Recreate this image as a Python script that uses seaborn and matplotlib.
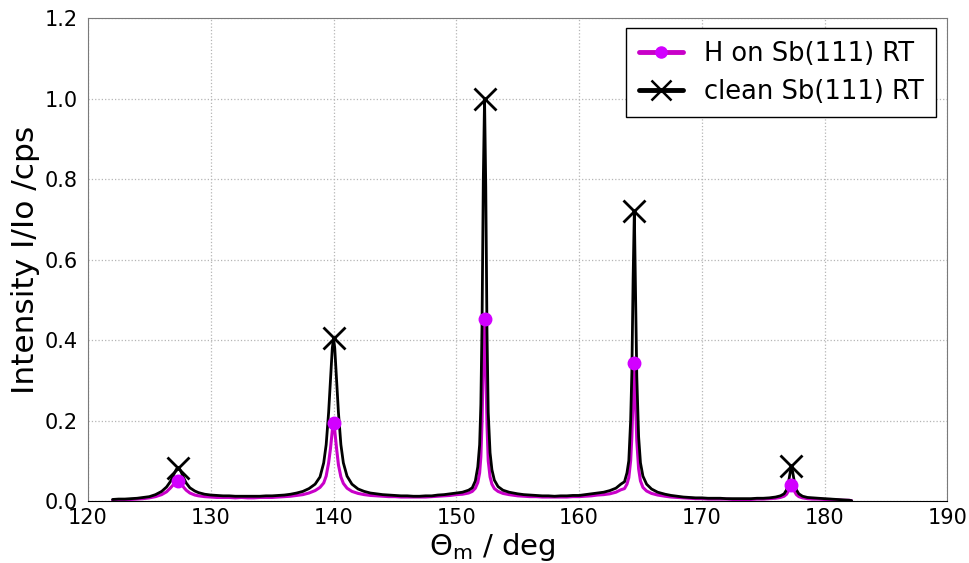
import matplotlib
matplotlib.use("Agg")
import matplotlib.pyplot as plt
from matplotlib.lines import Line2D
import seaborn as sns
import pandas as pd

# scattering angle grid (deg)
theta = [
    122.0, 122.5, 123.0, 123.5, 124.0, 124.5, 125.0, 125.5, 126.0, 126.4, 126.7,
    126.9, 127.05, 127.2, 127.35, 127.5, 127.65, 127.8, 128.0, 128.3, 128.7,
    129.0, 129.5, 130.0, 130.5, 131.0, 131.5, 132.0, 132.5, 133.0, 133.5, 134.0,
    134.5, 135.0, 135.5, 136.0, 136.5, 137.0, 137.5, 138.0, 138.5, 138.9,
    139.2, 139.4, 139.6, 139.75, 139.9, 140.0, 140.1, 140.25, 140.4, 140.6, 140.8,
    141.1, 141.5,
    142.0, 142.5, 143.0, 143.5, 144.0, 144.5, 145.0, 145.5, 146.0, 146.5, 147.0,
    147.5, 148.0, 148.5, 149.0, 149.5, 150.0, 150.5, 151.0, 151.3,
    151.55, 151.75, 151.9, 152.0, 152.1, 152.2, 152.3, 152.4, 152.5, 152.6, 152.75,
    152.9, 153.1, 153.4, 153.8,
    154.3, 155.0, 155.5, 156.0, 156.5, 157.0, 157.5, 158.0, 158.5, 159.0, 159.5,
    160.0, 160.5, 161.0, 161.5, 162.0, 162.5, 163.0, 163.4,
    163.7, 163.9, 164.05, 164.2, 164.3, 164.4, 164.5, 164.6, 164.7, 164.85, 165.0,
    165.2, 165.5, 165.9,
    166.4, 167.0, 167.5, 168.0, 168.5, 169.0, 169.5, 170.0, 170.5, 171.0, 171.5,
    172.0, 172.5, 173.0, 173.5, 174.0, 174.5, 175.0, 175.5, 176.0, 176.4,
    176.7, 176.9, 177.05, 177.2, 177.3, 177.4, 177.55, 177.7, 177.9, 178.2,
    178.6, 179.0, 179.5, 180.0, 180.5, 181.0, 181.5, 182.0, 182.2,
]

# clean Sb(111) at RT
clean = [
    0.004, 0.005, 0.005, 0.006, 0.007, 0.009, 0.011, 0.016, 0.024, 0.035, 0.048,
    0.060, 0.070, 0.079, 0.083, 0.078, 0.068, 0.057, 0.045, 0.033, 0.025,
    0.021, 0.017, 0.015, 0.014, 0.013, 0.013, 0.012, 0.012, 0.012, 0.012, 0.012,
    0.013, 0.013, 0.014, 0.015, 0.017, 0.020, 0.024, 0.031, 0.042, 0.060,
    0.095, 0.140, 0.220, 0.300, 0.380, 0.405, 0.380, 0.300, 0.220, 0.140, 0.095,
    0.062, 0.042,
    0.030, 0.024, 0.020, 0.018, 0.016, 0.015, 0.014, 0.013, 0.013, 0.012, 0.012,
    0.013, 0.013, 0.015, 0.016, 0.018, 0.020, 0.022, 0.027, 0.033,
    0.050, 0.085, 0.140, 0.240, 0.450, 0.800, 1.000, 0.780, 0.420, 0.220, 0.120,
    0.078, 0.052, 0.036, 0.027,
    0.022, 0.018, 0.016, 0.015, 0.014, 0.013, 0.013, 0.012, 0.013, 0.013, 0.014,
    0.014, 0.016, 0.018, 0.020, 0.022, 0.026, 0.032, 0.042,
    0.048, 0.070, 0.100, 0.200, 0.320, 0.550, 0.720, 0.520, 0.310, 0.160, 0.095,
    0.062, 0.042, 0.030,
    0.022, 0.017, 0.014, 0.012, 0.010, 0.009, 0.008, 0.008, 0.007, 0.007, 0.007,
    0.006, 0.006, 0.006, 0.006, 0.006, 0.007, 0.007, 0.008, 0.010, 0.013,
    0.018, 0.028, 0.045, 0.072, 0.087, 0.072, 0.045, 0.028, 0.018, 0.012,
    0.009, 0.008, 0.007, 0.006, 0.005, 0.004, 0.003, 0.002, 0.001,
]

# H on Sb(111) at RT
hydro = [
    0.002, 0.003, 0.003, 0.004, 0.005, 0.006, 0.008, 0.011, 0.016, 0.023, 0.032,
    0.039, 0.044, 0.048, 0.050, 0.047, 0.041, 0.034, 0.027, 0.020, 0.015,
    0.013, 0.011, 0.010, 0.009, 0.009, 0.009, 0.008, 0.009, 0.008, 0.008, 0.009,
    0.009, 0.009, 0.010, 0.011, 0.012, 0.014, 0.016, 0.020, 0.026, 0.034,
    0.045, 0.062, 0.095, 0.130, 0.175, 0.194, 0.175, 0.130, 0.090, 0.060, 0.044,
    0.032, 0.024,
    0.019, 0.016, 0.014, 0.013, 0.012, 0.011, 0.011, 0.010, 0.010, 0.010, 0.010,
    0.010, 0.011, 0.012, 0.013, 0.014, 0.016, 0.017, 0.020, 0.024,
    0.032, 0.046, 0.070, 0.110, 0.200, 0.360, 0.452, 0.340, 0.190, 0.100, 0.060,
    0.042, 0.031, 0.024, 0.019,
    0.016, 0.013, 0.012, 0.011, 0.011, 0.010, 0.010, 0.010, 0.010, 0.010, 0.011,
    0.011, 0.012, 0.013, 0.015, 0.016, 0.018, 0.022, 0.028,
    0.031, 0.042, 0.058, 0.100, 0.160, 0.260, 0.343, 0.250, 0.150, 0.080, 0.050,
    0.034, 0.025, 0.019,
    0.015, 0.012, 0.010, 0.009, 0.008, 0.007, 0.006, 0.006, 0.005, 0.005, 0.005,
    0.005, 0.004, 0.004, 0.004, 0.004, 0.005, 0.005, 0.006, 0.007, 0.009,
    0.012, 0.017, 0.025, 0.035, 0.040, 0.034, 0.024, 0.016, 0.011, 0.008,
    0.006, 0.005, 0.005, 0.004, 0.004, 0.003, 0.002, 0.002, 0.001,
]

peak_theta = [127.35, 140.0, 152.3, 164.5, 177.3]

assert len(theta) == len(clean) == len(hydro)

df = pd.DataFrame({"theta": theta, "clean": clean, "hydro": hydro})
peaks = df[df["theta"].isin(peak_theta)]

sns.set_style("white")
plt.rcParams["font.family"] = ["DejaVu Sans"]
plt.rcParams["mathtext.fontset"] = "dejavusans"
plt.rcParams["text.color"] = "black"
plt.rcParams["axes.labelcolor"] = "black"

LINE_M = "#c800c8"
DOT_M = "#d200ff"

fig = plt.figure(figsize=(9.7, 5.63), dpi=100)
ax = fig.add_axes([0.0907, 0.110, 0.886, 0.858])

sns.lineplot(data=df, x="theta", y="hydro", color=LINE_M, lw=2.2,
             sort=False, estimator=None, ax=ax, zorder=2)
sns.lineplot(data=df, x="theta", y="clean", color="black", lw=2.0,
             sort=False, estimator=None, ax=ax, zorder=3)

ax.plot(peaks["theta"], peaks["clean"], ls="none", marker="x", ms=16,
        mew=2.0, color="black", zorder=4)
ax.plot(peaks["theta"], peaks["hydro"], ls="none", marker="o", ms=9,
        mec=DOT_M, mfc=DOT_M, zorder=5)

ax.set_xlim(120, 190)
ax.set_ylim(0, 1.2)
ax.set_xticks(range(120, 191, 10))
ax.set_yticks([0.0, 0.2, 0.4, 0.6, 0.8, 1.0, 1.2])
ax.set_yticklabels(["%.1f" % v for v in ax.get_yticks()])
ax.grid(True, ls=":", color="#b5b5b5", lw=0.9)

for side in ["left", "top", "right"]:
    ax.spines[side].set_color("#7a7a7a")
ax.spines["bottom"].set_color("black")
ax.tick_params(axis="y", direction="out", length=4, labelsize=15, colors="#7a7a7a",
               labelcolor="black")
ax.tick_params(axis="x", length=0, labelsize=15, pad=5, labelcolor="black")

ax.set_xlabel(r"$\Theta_\mathrm{m}$ / deg", fontsize=21, labelpad=2)
ax.xaxis.set_label_coords(0.47, -0.062)
ax.set_ylabel("Intensity I/Io /cps", fontsize=22.5, labelpad=3)

handles = [
    Line2D([], [], color=LINE_M, lw=3.5, marker="o", ms=8, mec=DOT_M, mfc=DOT_M),
    Line2D([], [], color="black", lw=3.5, marker="x", ms=14, mew=1.8),
]
leg = ax.legend(handles, ["H on Sb(111) RT", "clean Sb(111) RT"],
                loc="upper right", fontsize=18.5, handlelength=1.7, fancybox=False,
                framealpha=1, edgecolor="black", borderpad=0.5, labelspacing=0.45,
                borderaxespad=0, bbox_to_anchor=(0.987, 0.979))
leg.get_frame().set_linewidth(1.0)

fig.savefig("out.png", dpi=100)
